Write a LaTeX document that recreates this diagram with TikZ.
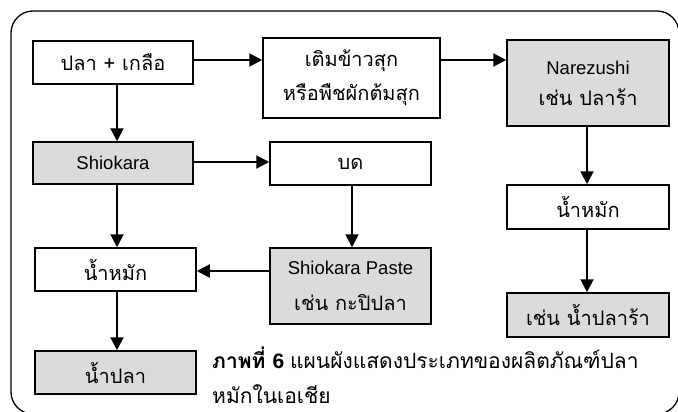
\documentclass[tikz,border=0pt]{standalone}
\usepackage{fontspec}
\setmainfont{Liberation Sans}
\newfontfamily\thaiff[Script=Thai]{Loma}
\newcommand\thai{\thaiff\fontsize{20}{31}\selectfont}
\usetikzlibrary{arrows.meta}
\tikzset{
  box/.style={draw=black, line width=1.5pt, inner sep=0pt, align=center, font=\fontsize{18.5}{31}\selectfont},
  grey/.style={box, fill=black!14},
  arr/.style={line width=2pt, -{Triangle[length=13pt,width=13pt]}},
}
\begin{document}
\begin{tikzpicture}[x=1pt,y=-1pt]
\useasboundingbox (0,0) rectangle (678,412);
\begin{scope}
\clip (0,0) rectangle (678,412);
\draw[line width=1.3pt, rounded corners=22pt] (11,11) rectangle (679,414);
\end{scope}
\node[box, minimum width=160pt, minimum height=43pt] (a) at (113,62.5) {\thai ปลา + เกลือ};
\node[box, minimum width=177pt, minimum height=80pt] (b) at (351.5,78) {\thai เติมข้าวสุก\\[3pt]\thai หรือพืชผักต้มสุก};
\node[grey, minimum width=162pt, minimum height=86pt] (c) at (588,83) {Narezushi\\\thai เช่น ปลาร้า};
\node[grey, minimum width=160pt, minimum height=42pt] (d) at (113,163) {Shiokara};
\node[box, minimum width=161pt, minimum height=43pt] (e) at (350.5,163.5) {\thai บด};
\node[box, minimum width=162pt, minimum height=44pt] (f) at (588,207) {\thai น้ำหมัก};
\node[box, minimum width=161pt, minimum height=43pt] (g) at (115.5,269.5) {\thai น้ำหมัก};
\node[grey, minimum width=161pt, minimum height=76pt] (h) at (350.5,286) {Shiokara Paste\\[5pt]\thai เช่น กะปิปลา};
\node[grey, minimum width=162pt, minimum height=44pt] (i) at (588,315) {\thai เช่น น้ำปลาร้า};
\node[grey, minimum width=161pt, minimum height=43pt] (j) at (115.5,372.5) {\thai น้ำปลา};
\node[anchor=base west, inner sep=0pt, font=\fontsize{21}{25}\selectfont] (cap1) at (212,368)
  {{\bfseries\thaiff ภาพที่ }\textbf{6} {\thaiff แผนผังแสดงประเภทของผลิตภัณฑ์ปลา}};
\node[anchor=base west, inner sep=0pt, font=\fontsize{21}{25}\selectfont] (cap2) at (212,403)
  {\thaiff หมักในเอเชีย};
\coordinate (xl) at (117,0);
\coordinate (xm) at (352,0);
\coordinate (xr) at (587,0);
\coordinate (y1) at (0,60);
\coordinate (y2) at (0,162);
\coordinate (y3) at (0,271);
\draw[arr] (a.east |- y1) -- (b.west |- y1);
\draw[arr] (b.east |- y1) -- (c.west |- y1);
\draw[arr] (a.south -| xl) -- (d.north -| xl);
\draw[arr] (d.east |- y2) -- (e.west |- y2);
\draw[arr] (d.south -| xl) -- (g.north -| xl);
\draw[arr] (e.south -| xm) -- (h.north -| xm);
\draw[arr] (h.west |- y3) -- (g.east |- y3);
\draw[arr] (g.south -| xl) -- (j.north -| xl);
\draw[arr] (c.south -| xr) -- (f.north -| xr);
\draw[arr] (f.south -| xr) -- (i.north -| xr);
\end{tikzpicture}
\end{document}
